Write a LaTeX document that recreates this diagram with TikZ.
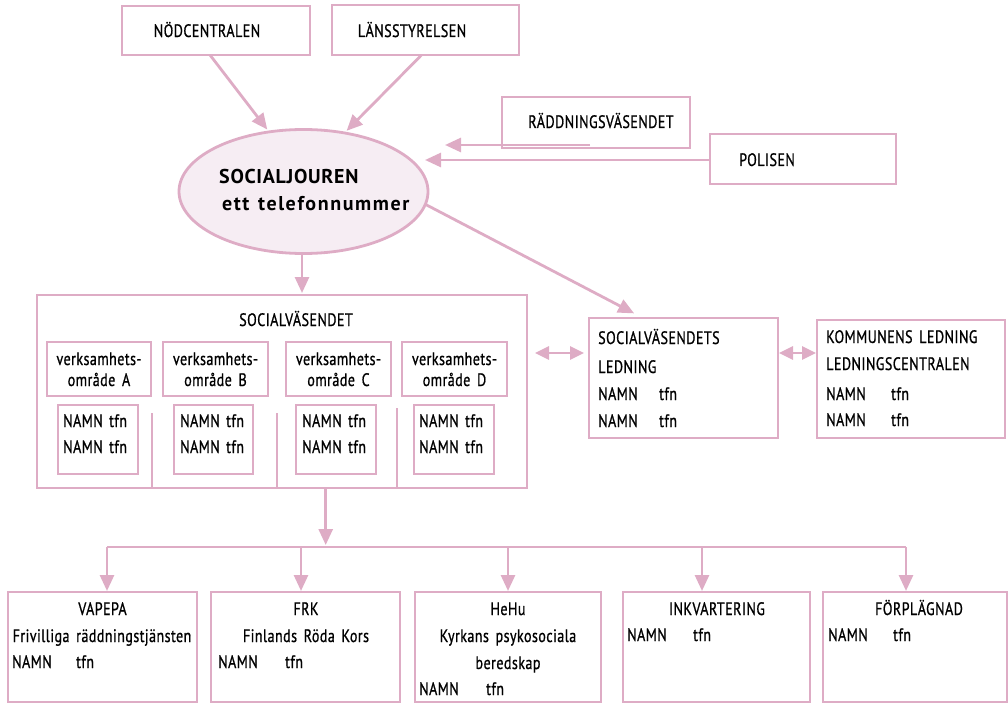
\documentclass[tikz,border=0pt]{standalone}
\usepackage{fontspec}
\setmainfont{PT Sans}[FakeStretch=0.78, LetterSpace=2.5, WordSpace=1.6, UprightFeatures={FakeBold=0.8}]
\newfontfamily\wideA{PT Sans}[LetterSpace=3.5]
\newfontfamily\wideB{PT Sans}[LetterSpace=8, WordSpace=1.3]
\usetikzlibrary{arrows.meta,shapes.geometric}
\definecolor{pinkc}{RGB}{222,172,197}
\definecolor{ellfill}{RGB}{246,237,243}
\tikzset{
 pk/.style={draw=pinkc, line width=2.8pt},
 box/.style={pk, rectangle, inner sep=0pt, outer sep=0pt, fill=white},
 tx/.style={inner sep=0pt, anchor=base west, font=\fontsize{18}{27}\selectfont},
 tc/.style={tx, anchor=base},
 bt/.style={inner sep=0pt, anchor=base west},
 arr/.style={pk, -{Triangle[length=16pt,width=14pt]}},
 darr/.style={pk, {Triangle[length=14pt,width=13pt]}-{Triangle[length=14pt,width=13pt]}},
}
\begin{document}
\begin{tikzpicture}[x=1pt,y=-1pt]
\useasboundingbox (0,0) rectangle (1008,703);

% top boxes
\node[box, minimum width=188, minimum height=49] (nod) at (216,30.5) {};
\node[box, minimum width=187, minimum height=50] (lans) at (425.5,30) {};
\node[box, minimum width=188, minimum height=51] (radd) at (596,122.5) {};
\node[box, minimum width=186, minimum height=50] (pol) at (803,159) {};
\node[tc] (tnod) at (207,37) {NÖDCENTRALEN};
\node[tc] (tlans) at (412,37) {LÄNSSTYRELSEN};
\node[tc] (tradd) at (601,128) {RÄDDNINGSVÄSENDET};
\node[tc] (tpol) at (767,166) {POLISEN};

% ellipse
\node[ellipse, pk, fill=ellfill, minimum width=249, minimum height=124, inner sep=0pt, outer sep=0pt] (soc) at (303.5,191.5) {};
\node[bt, font=\wideA\bfseries\fontsize{20}{22}\selectfont] (tsoc1) at (219,184) {SOCIALJOUREN};
\node[bt, font=\wideB\bfseries\fontsize{20}{22}\selectfont] (tsoc2) at (222,211) {ett telefonnummer};

% socialväsendet
\node[box, minimum width=490, minimum height=193] (sv) at (282,391.5) {};
\node[tc] (tsv) at (296,326) {SOCIALVÄSENDET};
\foreach \n/\x/\w/\nx/\nw/\ax/\bx in {A/99/104/98/80/63/109, B/215.5/105/213.5/79/180/226, C/338.5/105/336/80/302/348, D/454.5/105/454/80/419/465}{
  \node[box, minimum width=\w, minimum height=54] (v\n) at (\x,369) {};
  \node[tc] (tv\n1) at (\x,365) {verksamhets-};
  \node[tc] (tv\n2) at (\x,386) {område \n};
  \node[box, minimum width=\nw, minimum height=69] (n\n) at (\nx,439.5) {};
  \node[tx] (na\n1) at (\ax,427) {NAMN};
  \node[tx] (tf\n1) at (\bx,427) {tfn};
  \node[tx] (na\n2) at (\ax,453) {NAMN};
  \node[tx] (tf\n2) at (\bx,453) {tfn};
}
\draw[pk] (152,413) -- (152,488);
\draw[pk] (277,413) -- (277,488);
\draw[pk] (397,408) -- (397,488);

% ledning
\node[box, minimum width=189, minimum height=120] (led) at (683.5,378) {};
\node[tx] (tled1) at (598,344) {SOCIALVÄSENDETS};
\node[tx] (tled2) at (598,373) {LEDNING};
\node[tx] (tled3) at (598,400) {NAMN};
\node[tx] (tled4) at (659,400) {tfn};
\node[tx] (tled5) at (598,427) {NAMN};
\node[tx] (tled6) at (659,427) {tfn};

\node[box, minimum width=188, minimum height=118] (kom) at (911,379) {};
\node[tx] (tkom1) at (826,343) {KOMMUNENS LEDNING};
\node[tx] (tkom2) at (826,370) {LEDNINGSCENTRALEN};
\node[tx] (tkom3) at (826,400) {NAMN};
\node[tx] (tkom4) at (891,400) {tfn};
\node[tx] (tkom5) at (826,426) {NAMN};
\node[tx] (tkom6) at (891,426) {tfn};

% bottom boxes
\node[box, minimum width=189, minimum height=110] (b1) at (102.5,647) {};
\node[box, minimum width=189, minimum height=110] (b2) at (305.5,647) {};
\node[box, minimum width=186, minimum height=110] (b3) at (508,647) {};
\node[box, minimum width=187, minimum height=110] (b4) at (716.5,647) {};
\node[box, minimum width=184, minimum height=110] (b5) at (915,647) {};

\node[tc] (tb11) at (102.5,615) {VAPEPA};
\node[tc] (tb12) at (102,642) {Frivilliga räddningstjänsten};
\node[tx] (tb13) at (12,668) {NAMN};
\node[tx] (tb14) at (76,668) {tfn};

\node[tc] (tb21) at (306,615) {FRK};
\node[tc] (tb22) at (306,642) {Finlands Röda Kors};
\node[tx] (tb23) at (218,668) {NAMN};
\node[tx] (tb24) at (285,668) {tfn};

\node[tc] (tb31) at (508,615) {HeHu};
\node[tc] (tb32) at (508,642) {Kyrkans psykosociala};
\node[tc] (tb33) at (508,669) {beredskap};
\node[tx] (tb34) at (419,695) {NAMN};
\node[tx] (tb35) at (486,695) {tfn};

\node[tc] (tb41) at (717,615) {INKVARTERING};
\node[tx] (tb42) at (627,641) {NAMN};
\node[tx] (tb43) at (693,641) {tfn};

\node[tc] (tb51) at (919,615) {FÖRPLÄGNAD};
\node[tx] (tb52) at (828,641) {NAMN};
\node[tx] (tb53) at (893,641) {tfn};

% connectors to ellipse
\draw[arr, shorten >=3pt] ([xshift=-6pt]nod.south) -- (soc.120);
\draw[arr, shorten >=3pt] ([xshift=-4pt]lans.south) -- (soc.55);
\coordinate (raddend) at (445,145);
\draw[arr] ([xshift=88pt,yshift=3pt]radd.south west) -- (raddend);
\draw[arr] ([yshift=-1pt]pol.west) -- ([yshift=-1pt,xshift=-3pt]pol.west -| soc.east);

% from ellipse
\draw[arr, shorten >=10pt] (soc.-6) -- ([xshift=-40.5pt]led.north);
\draw[arr, shorten >=2pt] ([xshift=-1.5pt]soc.south) -- ([xshift=-1.5pt]soc.south |- sv.north);

% double arrows
\draw[darr] ([xshift=8pt,yshift=38.5pt]sv.east) -- ([xshift=-5pt,yshift=25pt]led.west);
\draw[darr] ([xshift=1pt,yshift=25pt]led.east) -- ([xshift=-1pt,yshift=26pt]kom.west);

% bottom distribution
\coordinate (hub) at (325.7,547);
\coordinate (busL) at (107,547);
\coordinate (busR) at (906,547);
\draw[arr, shorten >=2pt] ([xshift=43.7pt]sv.south) -- (hub);
\draw[pk] (busL) -- (busR);
\draw[arr, shorten >=1pt] (busL) -- (busL |- b1.north);
\draw[arr, shorten >=1pt] ([xshift=-4.5pt]b2.north |- busL) -- ([xshift=-4.5pt]b2.north);
\draw[arr, shorten >=1pt] (b3.north |- busL) -- (b3.north);
\draw[arr, shorten >=1pt] ([xshift=-14.5pt]b4.north |- busL) -- ([xshift=-14.5pt]b4.north);
\draw[arr, shorten >=1pt] (busR) -- (busR |- b5.north);
\end{tikzpicture}
\end{document}
